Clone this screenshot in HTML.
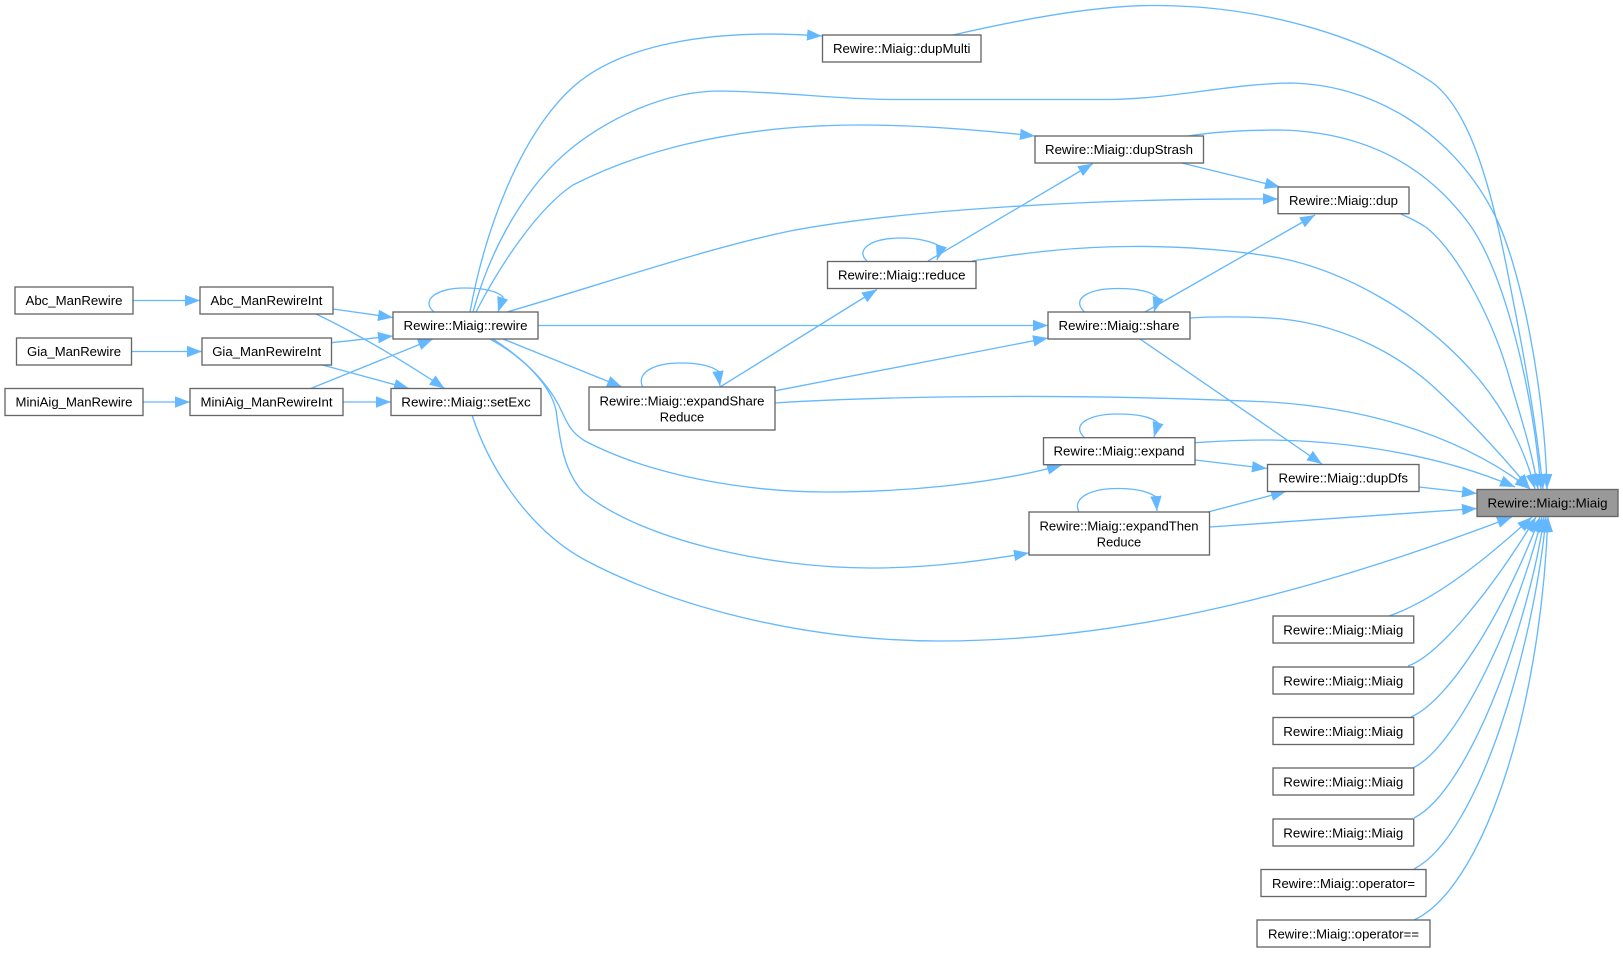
<!DOCTYPE html>
<html>
<head>
<meta charset="utf-8">
<style>
html,body{margin:0;padding:0;background:#fff;width:1623px;height:953px;overflow:hidden}
svg{display:block}
.e path{fill:none;stroke:#63b8ff;stroke-width:1.33;marker-end:url(#a)}
rect{fill:#fff;stroke:#666;stroke-width:1.33}
text{font-family:"Liberation Sans",Arial,sans-serif;font-size:13.33px;fill:#000;text-anchor:middle}
</style>
</head>
<body>
<svg width="1623" height="953" viewBox="0 0 1623 953" xmlns="http://www.w3.org/2000/svg">
<defs>
<marker id="a" markerUnits="userSpaceOnUse" markerWidth="17" markerHeight="13" refX="15" refY="5.7" orient="auto"><path d="M0,0L15,5.7L0,11.4z" fill="#63b8ff"/></marker>
</defs>
<g class="e">
<path d="M133,300.5L200,300.5"/>
<path d="M131.4,351.5L202,351.5"/>
<path d="M143,402L190,402"/>
<path d="M343,402L391,402"/>
<path d="M333,309L393,317.5"/>
<path d="M331.4,342.7L393,336"/>
<path d="M310.7,388.5L433,339"/>
<path d="M316,314C360,335 410,365 444.6,388.5"/>
<path d="M322.5,365L409,388.5"/>
<path d="M434,312C420,300 437,288 464,288C480,288 496,290 503,297L498,312"/>
<path d="M470,312C485,230 520,135 573,87C620,45 710,28 822,36"/>
<path d="M476,312C500,265 538,208 573,185C628,157 720,125 860,125C920,125 980,130 1035,136"/>
<path d="M507,312C600,285 700,250 790,231C900,210 1100,198 1278,199"/>
<path d="M538,325.5L1048,325.5"/>
<path d="M503,339L622,387"/>
<path d="M493,339C525,360 550,385 562,412C568,425 572,433 585,441C660,480 760,492 827,492C900,492 990,485 1062,465"/>
<path d="M490,339C525,358 550,385 556,410C560,440 563,470 583,492C640,540 770,568 870,568C930,568 980,561 1029,553"/>
<path d="M720,387L877,289.5"/>
<path d="M775.6,390.7L1048,338"/>
<path d="M642.6,387C636,372 655,363 680.5,363C695,363 710,365 718,371L720,386"/>
<path d="M928,261L1093,163.5"/>
<path d="M867,261C855,250 870,238 902,238C916,238 932,241 941,247L937,260"/>
<path d="M1181.7,163L1280,187"/>
<path d="M1145,312L1315,215"/>
<path d="M1084.5,312C1070,298 1090,288.5 1118,288.5C1135,288.5 1151,291 1158,298L1154,312"/>
<path d="M1084.5,437.7C1070,424 1090,414 1118,414C1135,414 1151,416.5 1158,423L1154,437"/>
<path d="M1079,512C1072,498 1090,488.5 1118,488.5C1135,488.5 1148,491 1156,497L1157,511"/>
<path d="M1140,339L1322,464"/>
<path d="M1195,460L1267,468.5"/>
<path d="M1208,512L1286,491.5"/>
<path d="M1419,487L1477,493.5"/>
<path d="M1210,527L1477,508.5"/>
<path d="M473,312C490,250 525,185 573,147C610,118 665,91 720,91C790,92 830,99 890,99.5L1110,99.5C1170,99 1230,84 1290,83C1370,84 1450,130 1492,210C1520,260 1545,390 1547,489"/>
<path d="M953,35C1040,15 1110,5 1157,5.5C1270,6 1370,40 1433,83C1475,115 1495,205 1512,295C1525,360 1537,430 1543,489"/>
<path d="M1188,136C1220,131 1250,130 1280,130C1370,132 1430,170 1470,225C1505,275 1533,390 1541,489"/>
<path d="M1400.7,214C1410,218 1420,223 1427,228C1460,255 1495,325 1510,380C1520,415 1532,450 1538,489"/>
<path d="M972,261C1030,252 1080,246.5 1130,246.5C1180,246 1235,250 1280,258C1340,270 1420,310 1477,377C1505,410 1525,450 1535,489"/>
<path d="M1190,318C1220,316 1250,317 1270,318C1340,322 1400,355 1437,390C1480,430 1510,465 1530,489"/>
<path d="M775,403C850,398 950,396.5 1006,396.5C1100,396 1200,399 1270,402C1350,407 1450,428 1530,489"/>
<path d="M1195,442.7C1220,441 1250,440 1270,440C1350,441 1440,455 1515,487"/>
<path d="M472,415C490,470 530,530 585,560C670,605 800,641 940,641C1130,641 1320,590 1512,517"/>
<path d="M1389,616C1430,602 1480,565 1532,517"/>
<path d="M1408,666C1440,655 1495,585 1536,517"/>
<path d="M1411,717C1450,700 1505,610 1540,517"/>
<path d="M1413,768C1460,745 1520,610 1542,517"/>
<path d="M1414,818C1470,790 1530,620 1544,517"/>
<path d="M1414,869C1480,835 1535,640 1546,517"/>
<path d="M1414,920C1480,890 1540,720 1548,517"/>
</g>
<g>
<rect x="15" y="287" width="118" height="27"/><text x="74" y="305" textLength="97" lengthAdjust="spacingAndGlyphs">Abc_ManRewire</text>
<rect x="200" y="287" width="133" height="27"/><text x="266.5" y="305" textLength="112" lengthAdjust="spacingAndGlyphs">Abc_ManRewireInt</text>
<rect x="16.5" y="338" width="115" height="27"/><text x="74" y="356" textLength="94" lengthAdjust="spacingAndGlyphs">Gia_ManRewire</text>
<rect x="202" y="338" width="129.5" height="27"/><text x="266.7" y="356" textLength="109" lengthAdjust="spacingAndGlyphs">Gia_ManRewireInt</text>
<rect x="5" y="388.5" width="138" height="27"/><text x="74" y="406.5" textLength="117" lengthAdjust="spacingAndGlyphs">MiniAig_ManRewire</text>
<rect x="190" y="388.5" width="153" height="27"/><text x="266.5" y="406.5" textLength="132" lengthAdjust="spacingAndGlyphs">MiniAig_ManRewireInt</text>
<rect x="393" y="312" width="145" height="27"/><text x="465.5" y="330" textLength="124" lengthAdjust="spacingAndGlyphs">Rewire::Miaig::rewire</text>
<rect x="391" y="388.5" width="150" height="27"/><text x="466" y="406.5" textLength="129.5" lengthAdjust="spacingAndGlyphs">Rewire::Miaig::setExc</text>
<rect x="589" y="387" width="186" height="43"/><text x="682" y="405.5" textLength="165" lengthAdjust="spacingAndGlyphs">Rewire::Miaig::expandShare</text><text x="682" y="421.5" textLength="44.5" lengthAdjust="spacingAndGlyphs">Reduce</text>
<rect x="822.5" y="35" width="158.5" height="27"/><text x="901.7" y="53" textLength="137.5" lengthAdjust="spacingAndGlyphs">Rewire::Miaig::dupMulti</text>
<rect x="827.5" y="261.5" width="148.5" height="27"/><text x="901.7" y="279.5" textLength="127.5" lengthAdjust="spacingAndGlyphs">Rewire::Miaig::reduce</text>
<rect x="1035" y="136" width="168.5" height="27"/><text x="1119" y="154" textLength="148" lengthAdjust="spacingAndGlyphs">Rewire::Miaig::dupStrash</text>
<rect x="1048" y="312" width="142" height="27"/><text x="1119" y="330" textLength="121" lengthAdjust="spacingAndGlyphs">Rewire::Miaig::share</text>
<rect x="1043.5" y="437.7" width="151.5" height="27"/><text x="1119" y="455.7" textLength="131" lengthAdjust="spacingAndGlyphs">Rewire::Miaig::expand</text>
<rect x="1029" y="512" width="180.5" height="43"/><text x="1119" y="530.7" textLength="159" lengthAdjust="spacingAndGlyphs">Rewire::Miaig::expandThen</text><text x="1119" y="546.7" textLength="44.5" lengthAdjust="spacingAndGlyphs">Reduce</text>
<rect x="1278" y="187" width="131" height="26.7"/><text x="1343.5" y="205" textLength="109" lengthAdjust="spacingAndGlyphs">Rewire::Miaig::dup</text>
<rect x="1267.5" y="464.5" width="151.5" height="27"/><text x="1343.3" y="482.5" textLength="129.5" lengthAdjust="spacingAndGlyphs">Rewire::Miaig::dupDfs</text>
<rect x="1477" y="489.5" width="141" height="27" style="fill:#999"/><text x="1547.5" y="507.5" textLength="120" lengthAdjust="spacingAndGlyphs">Rewire::Miaig::Miaig</text>
<rect x="1273" y="616" width="140.7" height="27"/><text x="1343.3" y="634.5" textLength="120" lengthAdjust="spacingAndGlyphs">Rewire::Miaig::Miaig</text>
<rect x="1273" y="667" width="140.7" height="27"/><text x="1343.3" y="685.5" textLength="120" lengthAdjust="spacingAndGlyphs">Rewire::Miaig::Miaig</text>
<rect x="1273" y="717.5" width="140.7" height="27"/><text x="1343.3" y="736" textLength="120" lengthAdjust="spacingAndGlyphs">Rewire::Miaig::Miaig</text>
<rect x="1273" y="768" width="140.7" height="27"/><text x="1343.3" y="786.5" textLength="120" lengthAdjust="spacingAndGlyphs">Rewire::Miaig::Miaig</text>
<rect x="1273" y="819" width="140.7" height="27"/><text x="1343.3" y="837.5" textLength="120" lengthAdjust="spacingAndGlyphs">Rewire::Miaig::Miaig</text>
<rect x="1261" y="869.5" width="165" height="27"/><text x="1343.5" y="888" textLength="143" lengthAdjust="spacingAndGlyphs">Rewire::Miaig::operator=</text>
<rect x="1257" y="920" width="173" height="27"/><text x="1343.5" y="938.5" textLength="151" lengthAdjust="spacingAndGlyphs">Rewire::Miaig::operator==</text>
</g>
</svg>
</body>
</html>
